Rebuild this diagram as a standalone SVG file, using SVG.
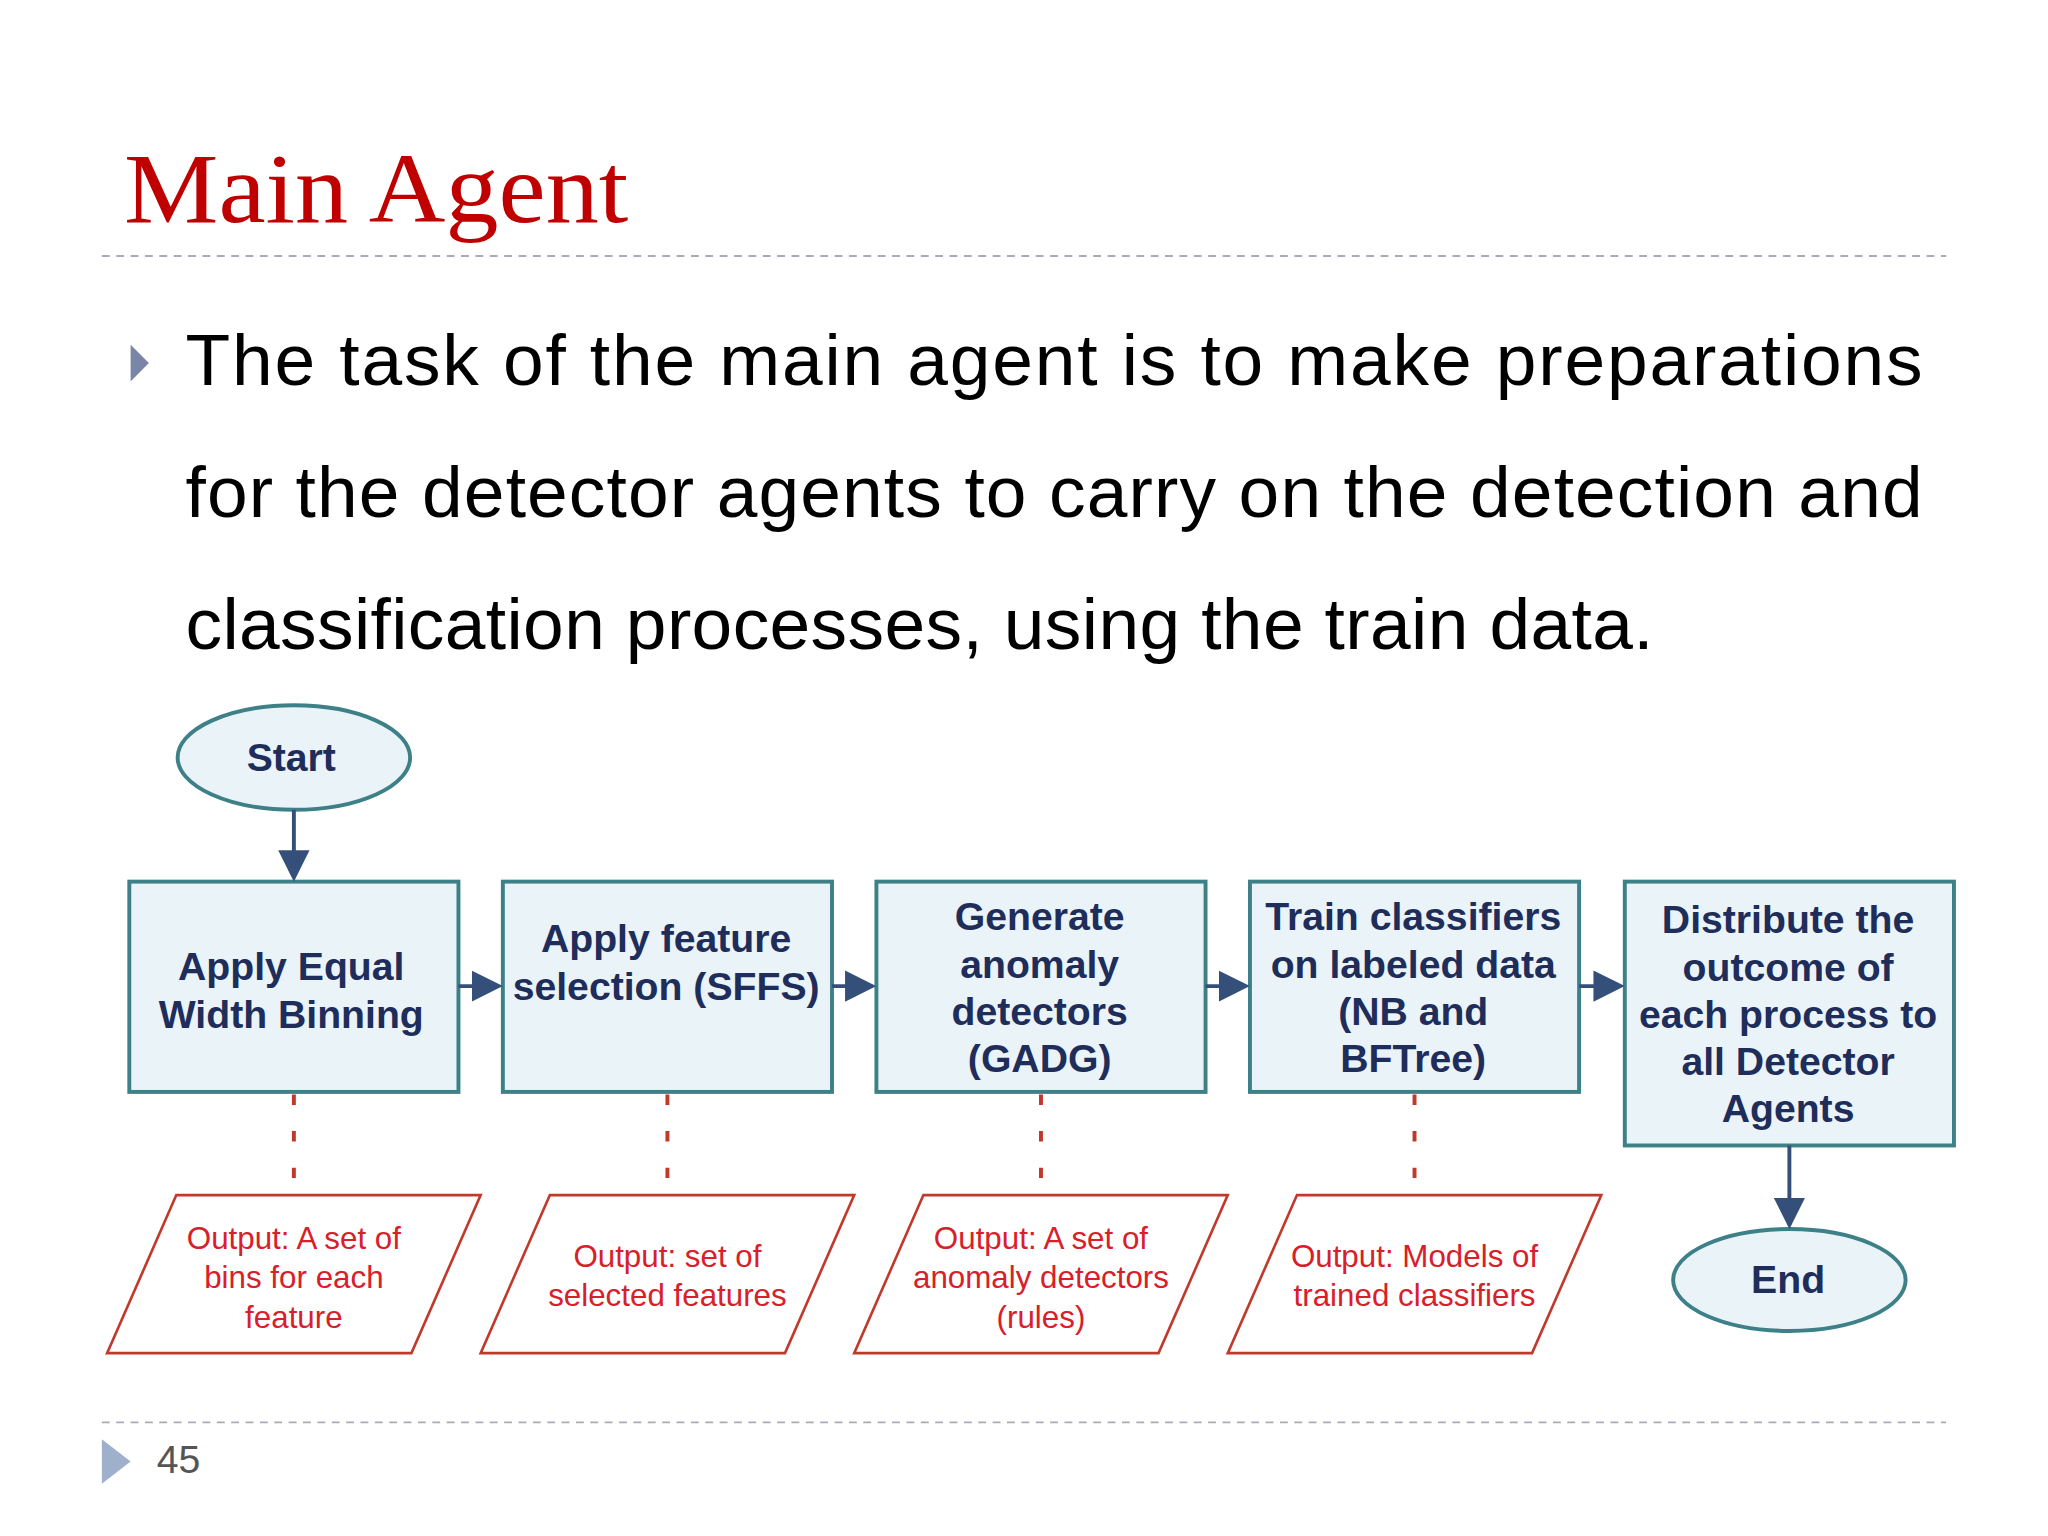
<svg xmlns="http://www.w3.org/2000/svg" width="2048" height="1536" viewBox="0 0 2048 1536">
<style>
.node{fill:#e9f3f8;stroke:#3d8088;stroke-width:3}
.out{fill:#fff;stroke:#c0392b;stroke-width:2}
.nt{font-family:"Liberation Sans",Arial,sans-serif;font-size:30px;font-weight:bold;fill:#1f2d5a;text-anchor:middle}
.ot{font-family:"Liberation Sans",Arial,sans-serif;font-size:24px;fill:#d8202a;text-anchor:middle}
.con{stroke:#34507a;stroke-width:3;fill:none}
.dot{stroke:#c0392b;stroke-width:3;stroke-dasharray:8,20;fill:none}
.body{font-family:"Liberation Sans",Arial,sans-serif;font-size:56px;fill:#000}
</style>
<defs><marker id="ah" markerWidth="8" markerHeight="8" refX="7" refY="4" orient="auto" markerUnits="strokeWidth"><path d="M0,0L8,4L0,8z" fill="#34507a"/></marker></defs>
<rect width="2048" height="1536" fill="#fff"/>
<g transform="scale(1.30612)">
<text x="95" y="170" font-family="Liberation Serif,serif" font-size="76" fill="#c00000" textLength="386" lengthAdjust="spacingAndGlyphs">Main Agent</text>
<line x1="78" y1="196" x2="1490" y2="196" stroke="#aab" stroke-width="1.5" stroke-dasharray="6,5"/>
<path d="M100,264L114,278L100,292z" fill="#7a86a8"/>
<text class="body" x="142" y="295" textLength="1330" lengthAdjust="spacing">The task of the main agent is to make preparations</text>
<text class="body" x="142" y="396" textLength="1330" lengthAdjust="spacing">for the detector agents to carry on the detection and</text>
<text class="body" x="142" y="497" textLength="1124" lengthAdjust="spacing">classification processes, using the train data.</text>
<g id="start"><ellipse class="node" cx="225" cy="580" rx="89" ry="40"/><text class="nt" x="223" y="590">Start</text></g>
<g id="n1"><rect class="node" x="99" y="675" width="252" height="161"/><text class="nt" x="223" y="750">Apply Equal</text><text class="nt" x="223" y="787">Width Binning</text></g>
<g id="n2"><rect class="node" x="385" y="675" width="252" height="161"/><text class="nt" x="510" y="729">Apply feature</text><text class="nt" x="510" y="766">selection (SFFS)</text></g>
<g id="n3"><rect class="node" x="671" y="675" width="252" height="161"/><text class="nt" x="796" y="712">Generate</text><text class="nt" x="796" y="749">anomaly</text><text class="nt" x="796" y="785">detectors</text><text class="nt" x="796" y="821">(GADG)</text></g>
<g id="n4"><rect class="node" x="957" y="675" width="252" height="161"/><text class="nt" x="1082" y="712">Train classifiers</text><text class="nt" x="1082" y="749">on labeled data</text><text class="nt" x="1082" y="785">(NB and</text><text class="nt" x="1082" y="821">BFTree)</text></g>
<g id="n5"><rect class="node" x="1244" y="675" width="252" height="202"/><text class="nt" x="1369" y="714">Distribute the</text><text class="nt" x="1369" y="751">outcome of</text><text class="nt" x="1369" y="787">each process to</text><text class="nt" x="1369" y="823">all Detector</text><text class="nt" x="1369" y="859">Agents</text></g>
<g id="end"><ellipse class="node" cx="1370" cy="980" rx="89" ry="39"/><text class="nt" x="1369" y="990">End</text></g>
<g id="o1"><path class="out" d="M135,915H368L315,1036H82z"/><text class="ot" x="225" y="956">Output: A set of</text><text class="ot" x="225" y="986">bins for each</text><text class="ot" x="225" y="1017">feature</text></g>
<g id="o2"><path class="out" d="M421,915H654L601,1036H368z"/><text class="ot" x="511" y="970">Output: set of</text><text class="ot" x="511" y="1000">selected features</text></g>
<g id="o3"><path class="out" d="M707,915H940L887,1036H654z"/><text class="ot" x="797" y="956">Output: A set of</text><text class="ot" x="797" y="986">anomaly detectors</text><text class="ot" x="797" y="1017">(rules)</text></g>
<g id="o4"><path class="out" d="M993,915H1226L1173,1036H940z"/><text class="ot" x="1083" y="970">Output: Models of</text><text class="ot" x="1083" y="1000">trained classifiers</text></g>
<g id="connectors">
<path class="con" marker-end="url(#ah)" d="M225,620V672"/>
<path class="con" marker-end="url(#ah)" d="M351,755H382"/>
<path class="con" marker-end="url(#ah)" d="M637,755H668"/>
<path class="con" marker-end="url(#ah)" d="M923,755H954"/>
<path class="con" marker-end="url(#ah)" d="M1209,755H1241"/>
<path class="con" marker-end="url(#ah)" d="M1370,877V938"/>
<path class="dot" d="M225,838V905M511,838V905M797,838V905M1083,838V905"/>
</g>
<line x1="78" y1="1089" x2="1490" y2="1089" stroke="#aab" stroke-width="1.5" stroke-dasharray="6,5"/>
<path d="M78,1102L100,1119L78,1136z" fill="#9fb0cc"/>
<text x="120" y="1128" font-family="Liberation Sans,Arial,sans-serif" font-size="30" fill="#555">45</text>
</g>
</svg>
